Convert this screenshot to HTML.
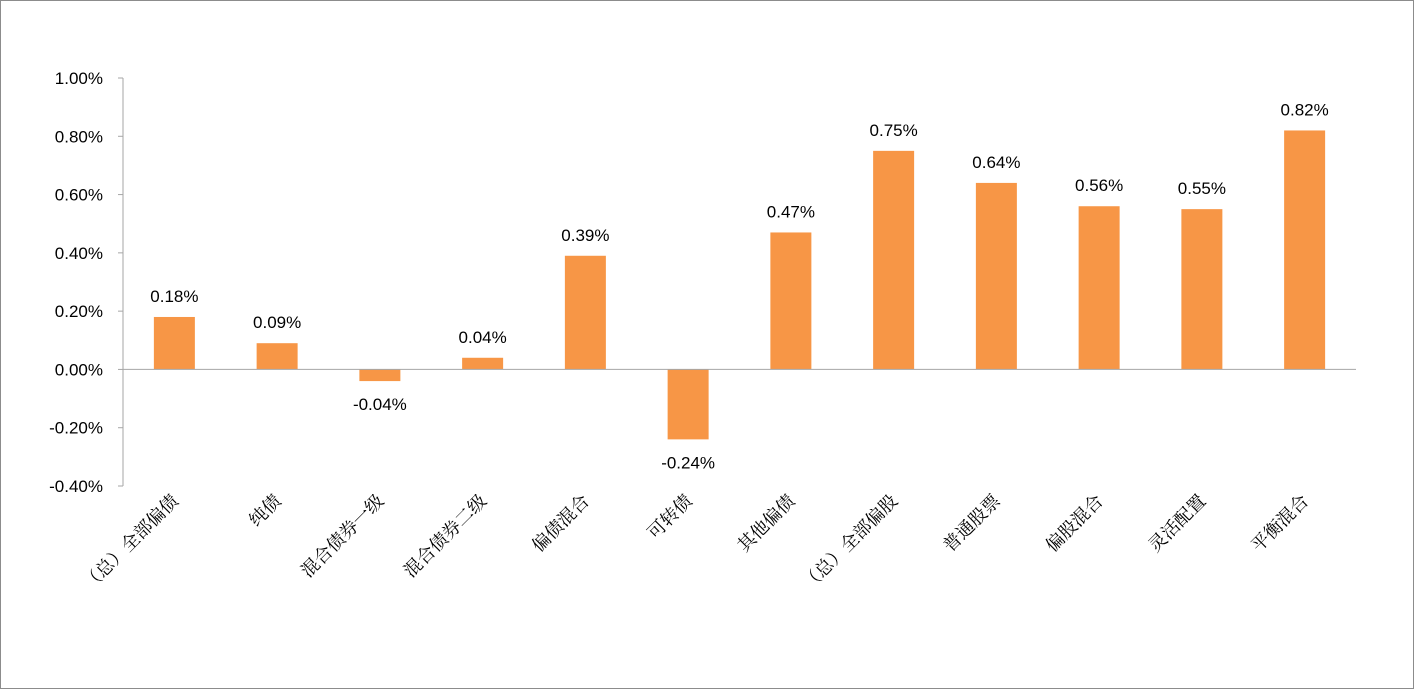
<!DOCTYPE html>
<html><head><meta charset="utf-8"><style>
html,body{margin:0;padding:0;background:#fff}
svg{display:block}
</style></head><body>
<svg width="1414" height="689" xmlns="http://www.w3.org/2000/svg">
<rect x="0.5" y="0.5" width="1413" height="688" fill="#fff" stroke="#8c8c8c"/>
<g id="plot"></g>
</svg>
<script>
const categories=["（总）全部偏债","纯债","混合债券一级","混合债券二级","偏债混合","可转债","其他偏债","（总）全部偏股","普通股票","偏股混合","灵活配置","平衡混合"];
const values=[0.18,0.09,-0.04,0.04,0.39,-0.24,0.47,0.75,0.64,0.56,0.55,0.82];
const valueLabels=["0.18%","0.09%","-0.04%","0.04%","0.39%","-0.24%","0.47%","0.75%","0.64%","0.56%","0.55%","0.82%"];
const yTicks=[1.0,0.8,0.6,0.4,0.2,0,-0.2,-0.4];
const yTickLabels=["1.00%","0.80%","0.60%","0.40%","0.20%","0.00%","-0.20%","-0.40%"];
const NS="http://www.w3.org/2000/svg";
const g=document.getElementById('plot');
const x0=123,x1=1356,yTop=78,yBot=486,yMax=1.0,yMin=-0.4;
const y=v=>yTop+(yMax-v)/(yMax-yMin)*(yBot-yTop);
const bw=(x1-x0)/categories.length;
const xc=i=>x0+bw*(i+0.5);
function mk(t,a){const e=document.createElementNS(NS,t);for(const k in a)e.setAttribute(k,a[k]);g.appendChild(e);return e;}
const ax=mk('line',{x1:x0,x2:x0,y1:yTop,y2:yBot,stroke:'#a6a6a6'});


yTicks.forEach((v,i)=>{
 const t=mk('line',{x1:x0-5,x2:x0,y1:y(v),y2:y(v),stroke:'#a6a6a6'});
 
 
 const l=mk('text',{x:103,y:y(v)+6,'text-anchor':'end','font-family':'Liberation Sans, sans-serif','font-size':'17',fill:'#000'});
 l.textContent=yTickLabels[i];
 
 
});
values.forEach((v,i)=>{
 const cx=xc(i),w=41;
 const r=mk('rect',{x:cx-w/2,y:Math.min(y(v),y(0)),width:w,height:Math.abs(y(v)-y(0)),fill:'#f79646'});
 
 
 const ly=v>=0?y(v)-15:y(v)+29;
 const t=mk('text',{x:cx,y:ly,'text-anchor':'middle','font-family':'Liberation Sans, sans-serif','font-size':'17',fill:'#000'});
 t.textContent=valueLabels[i];
 
 
 const lx=cx+5,lyy=502;
 const c=mk('text',{x:lx,y:lyy,'text-anchor':'end','font-family':'Liberation Serif, Noto Serif CJK SC, serif','font-size':'18',fill:'#000',transform:`rotate(-45 ${lx} ${lyy})`});
 c.textContent=categories[i];
 
 
});
const zl=mk('line',{x1:x0,x2:x1,y1:y(0),y2:y(0),stroke:'#a6a6a6'});


</script>
</body></html>
